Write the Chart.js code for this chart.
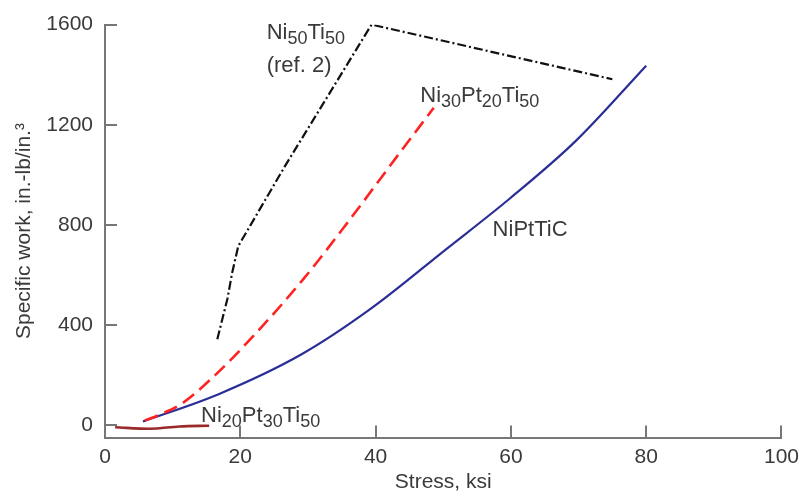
<!DOCTYPE html>
<html><head><meta charset="utf-8">
<script src="https://cdn.jsdelivr.net/npm/chart.js@4.4.1/dist/chart.umd.min.js"></script>
<style>html,body{margin:0;padding:0;background:#fff}#wrap{width:806px;height:495px;position:relative}</style>
</head><body><div id="wrap"><canvas id="c" width="806" height="495"></canvas></div>
<script>
// ---- data ----
const xTickValues = [0, 20, 40, 60, 80, 100];
const yTickValues = [0, 400, 800, 1200, 1600];

const ni50ti50Stress = [16.6, 18.1, 18.8, 19.7, 26.6, 39.4, 75.0];
const ni50ti50Work   = [344, 506, 610, 716, 1035, 1600, 1382];

const ni30pt20ti50Stress = [5.9, 8.5, 11.5, 16.4, 22.2, 29.5, 36.0, 43.2, 48.6];
const ni30pt20ti50Work   = [20, 48, 90, 204, 365, 590, 815, 1075, 1268];

const niptticStress = [5.6, 16.8, 29.0, 39.3, 50.5, 59.8, 69.6, 80.0];
const niptticWork   = [16, 125, 283, 466, 705, 905, 1136, 1436];

const ni20pt30ti50Stress = [1.5, 6.6, 11.0, 15.4];
const ni20pt30ti50Work   = [-7, -13, -4, -1];

// curve labels: text parts (second item 1 = subscript) and anchor in data units (left, baseline)
const curveLabels = [
  {parts: [['Ni'], ['50', 1], ['Ti'], ['50', 1]], x: 23.9, y: 1544},
  {parts: [['(ref. 2)']], x: 23.9, y: 1412},
  {parts: [['Ni'], ['30', 1], ['Pt'], ['20', 1], ['Ti'], ['50', 1]], x: 46.6, y: 1293},
  {parts: [['NiPtTiC']], x: 57.3, y: 757},
  {parts: [['Ni'], ['20', 1], ['Pt'], ['30', 1], ['Ti'], ['50', 1]], x: 14.2, y: 12}
];

const xTitle = 'Stress, ksi';
const yTitle = 'Specific work, in.-lb/in.\u00B3';

// ---- build ----
const pts = (xs, ys) => xs.map((x, i) => ({x: x, y: ys[i]}));
const FONT = "'Liberation Sans', Arial, Helvetica, sans-serif";
const AXIS = '#777777';
const TEXT = '#3a3a3a';

const inwardTicks = {
  id: 'inwardTicks',
  afterDraw(chart) {
    const ctx = chart.ctx, xs = chart.scales.x, ys = chart.scales.y;
    const a = chart.chartArea;
    ctx.save();
    ctx.strokeStyle = AXIS;
    ctx.lineWidth = 2;
    ctx.beginPath();
    yTickValues.forEach(v => {
      const py = Math.round(ys.getPixelForValue(v));
      ctx.moveTo(a.left, py); ctx.lineTo(a.left + 12, py);
    });
    xTickValues.forEach(v => {
      const px = Math.round(xs.getPixelForValue(v));
      ctx.moveTo(px, a.bottom); ctx.lineTo(px, a.bottom - 12);
    });
    ctx.stroke();
    ctx.restore();
  }
};

const labelPlugin = {
  id: 'curveLabels',
  afterDatasetsDraw(chart) {
    const ctx = chart.ctx, xs = chart.scales.x, ys = chart.scales.y;
    ctx.save();
    ctx.fillStyle = TEXT;
    ctx.textBaseline = 'alphabetic';
    ctx.textAlign = 'left';
    const big = 22, small = 18;
    curveLabels.forEach(l => {
      let px = xs.getPixelForValue(l.x);
      const py = ys.getPixelForValue(l.y);
      l.parts.forEach(p => {
        const sub = p[1] === 1;
        ctx.font = (sub ? small : big) + 'px ' + FONT;
        ctx.fillText(p[0], px, py + (sub ? 5 : 0));
        px += ctx.measureText(p[0]).width;
      });
    });
    ctx.restore();
  }
};

new Chart(document.getElementById('c'), {
  type: 'line',
  data: {
    datasets: [
      {label: 'Ni50Ti50 (ref. 2)', data: pts(ni50ti50Stress, ni50ti50Work),
       borderColor: '#111111', borderWidth: 2.2, borderDash: [9, 3, 2, 3], pointRadius: 0, tension: 0},
      {label: 'Ni30Pt20Ti50', data: pts(ni30pt20ti50Stress, ni30pt20ti50Work),
       borderColor: '#ff2222', borderWidth: 2.6, borderDash: [14, 7], pointRadius: 0, cubicInterpolationMode: 'monotone'},
      {label: 'NiPtTiC', data: pts(niptticStress, niptticWork),
       borderColor: '#2a2e96', borderWidth: 2.2, pointRadius: 0, cubicInterpolationMode: 'monotone'},
      {label: 'Ni20Pt30Ti50', data: pts(ni20pt30ti50Stress, ni20pt30ti50Work),
       borderColor: '#9a2a2a', borderWidth: 2.6, pointRadius: 0, cubicInterpolationMode: 'monotone'}
    ]
  },
  options: {
    responsive: false,
    devicePixelRatio: 1,
    animation: false,
    layout: {padding: {top: 19, right: 18, left: 0, bottom: 0}},
    plugins: {legend: {display: false}, tooltip: {enabled: false}},
    scales: {
      x: {
        type: 'linear', min: 0, max: 100,
        afterBuildTicks: s => { s.ticks = xTickValues.map(v => ({value: v})); },
        afterFit: s => { s.height = 57.5; },
        grid: {display: false, drawTicks: false},
        border: {display: true, color: AXIS, width: 2},
        ticks: {color: TEXT, font: {family: FONT, size: 21}, padding: 7, maxRotation: 0,
                callback: v => String(v)},
        title: {display: true, text: xTitle, color: TEXT, font: {family: FONT, size: 21}, padding: {top: 0, bottom: 0}}
      },
      y: {
        type: 'linear', min: -48, max: 1600,
        afterBuildTicks: s => { s.ticks = yTickValues.map(v => ({value: v})); },
        afterFit: s => { s.width = 105; },
        grid: {display: false, drawTicks: false},
        border: {display: true, color: AXIS, width: 2},
        ticks: {color: TEXT, font: {family: FONT, size: 21}, padding: 12,
                callback: v => String(v)},
        title: {display: true, text: yTitle, color: TEXT, font: {family: FONT, size: 21}, padding: {top: 12, bottom: 0}}
      }
    }
  },
  plugins: [inwardTicks, labelPlugin]
});
</script>
</body></html>
